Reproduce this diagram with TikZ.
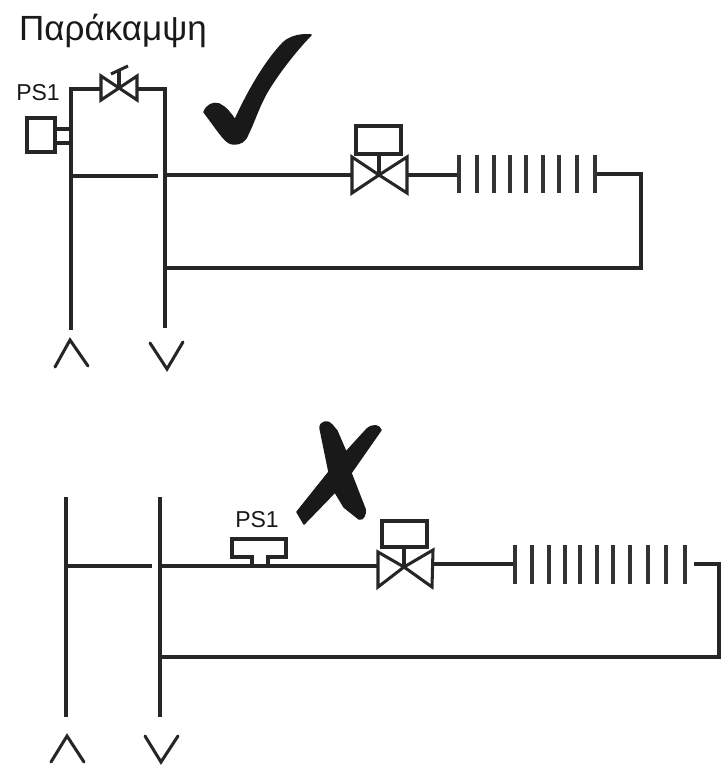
\documentclass[tikz,border=0pt]{standalone}
\usepackage{fontspec}
\setmainfont{Liberation Sans}

\tikzset{
    pipe/.style={line width=3.05pt,draw=black!85,line cap=butt,line join=miter},
    finline/.style={line width=3.05pt,draw=black!80},
    tickmark/.style={fill=black!90,draw=black!90,line width=1.5pt,line join=round},
    title/.style={inner sep=0pt,anchor=base west,font=\fontsize{35}{37}\selectfont,text=black!90},
    tag/.style={inner sep=0pt,anchor=base,font=\fontsize{23}{25}\selectfont,text=black!90}
}

\begin{document}
\begin{tikzpicture}[x=1pt,y=-1pt]
    \useasboundingbox (0,0) rectangle (726,768);

    % Labels
    \node [title] (heading) at (19,41) {Παράκαμψη};
    \node [tag] (tagtop) at (38,100) {PS1};
    \node [tag] (tagbot) at (257,527) {PS1};

    % Upper circuit: junctions
    \coordinate (ubypassL) at (71,89);
    \coordinate (ubypassR) at (165,89);
    \coordinate (ulegL) at (71,330);
    \coordinate (ulegR) at (165,328);
    \coordinate (ubleft) at (101,89);
    \coordinate (ubright) at (137,89);
    \coordinate (ubmid) at (119,88);
    \coordinate (ucrossL) at (71,176);
    \coordinate (ucrossR) at (158,176);
    \coordinate (umainA) at (165,175);
    \coordinate (uvalveL) at (352,175);
    \coordinate (uvalveM) at (379,175);
    \coordinate (uvalveR) at (407,175);
    \coordinate (ufinA) at (459,175);
    \coordinate (ufinB) at (597,174);
    \coordinate (ucorner) at (641,174);
    \coordinate (ucornerB) at (641,268);
    \coordinate (ureturn) at (165,268);

    % Upper circuit: pipes
    \draw [pipe] (ulegL) -- (ubypassL) -- (ubleft);
    \draw [pipe] (ubright) -- (ubypassR) -- (ulegR);
    \draw [pipe] (ucrossL) -- (ucrossR);
    \draw [pipe] (umainA) -- (uvalveL);
    \draw [pipe] (uvalveR) -- (ufinA);
    \draw [pipe] (ufinB) -- (ucorner) -- (ucornerB) -- (ureturn);

    % Hand valve on the bypass
    \draw [pipe] (ubmid) -- (101,76) -- (101,100) -- cycle;
    \draw [pipe] (ubmid) -- (137,76) -- (137,100) -- cycle;
    \draw [pipe] (ubmid) -- (119,71);
    \draw [pipe] (111,74) -- (128,66);

    % Upper pressure switch
    \draw [pipe] (27,118) rectangle (55,152);
    \draw [pipe] (55,129) -- (71,129);
    \draw [pipe] (55,143) -- (71,143);

    % Upper solenoid valve
    \draw [pipe] (uvalveM) -- (352,157) -- (352,193) -- cycle;
    \draw [pipe] (uvalveM) -- (407,157) -- (407,193) -- cycle;
    \draw [pipe] (356,126) rectangle (401,154);
    \draw [pipe] (379,154) -- (uvalveM);

    % Upper fins
    \foreach \fx in {459,477,494,510,526,543,559,577,595} {
        \draw [finline] (\fx,155) -- (\fx,193);
    }

    % Upper flow arrows
    \draw [pipe,line cap=round] (55,367) -- (70,340) -- (88,366);
    \draw [pipe,line cap=round] (150,343) -- (167,369) -- (183,342);

    % Lower circuit: junctions
    \coordinate (lpipeLt) at (66,497);
    \coordinate (lpipeLb) at (66,717);
    \coordinate (lpipeRt) at (160,497);
    \coordinate (lpipeRb) at (160,717);
    \coordinate (lcrossL) at (66,566);
    \coordinate (lcrossR) at (152,566);
    \coordinate (lmainA) at (160,566);
    \coordinate (lvalveL) at (378,566);
    \coordinate (lvalveM) at (404,567);
    \coordinate (lvalveR) at (433,564);
    \coordinate (lfinA) at (515,564);
    \coordinate (lfinB) at (694,564);
    \coordinate (lcorner) at (719,564);
    \coordinate (lcornerB) at (719,657);
    \coordinate (lreturn) at (160,657);

    % Lower circuit: pipes
    \draw [pipe] (lpipeLt) -- (lpipeLb);
    \draw [pipe] (lpipeRt) -- (lpipeRb);
    \draw [pipe] (lcrossL) -- (lcrossR);
    \draw [pipe] (lmainA) -- (lvalveL);
    \draw [pipe] (lvalveR) -- (lfinA);
    \draw [pipe] (lfinB) -- (lcorner) -- (lcornerB) -- (lreturn);

    % Lower pressure switch
    \draw [pipe] (252,565) -- (252,557) -- (232,557) -- (232,539) -- (286,539) -- (286,557) -- (268,557) -- (268,565);

    % Lower solenoid valve
    \draw [pipe] (lvalveM) -- (378,552) -- (378,587) -- cycle;
    \draw [pipe] (lvalveM) -- (433,550) -- (432,587) -- cycle;
    \draw [pipe] (382,521) rectangle (427,547);
    \draw [pipe] (404,547) -- (lvalveM);

    % Lower fins
    \foreach \fx in {515,532,549,565,580,597,613,630,648,666,685} {
        \draw [finline] (\fx,545) -- (\fx,584);
    }

    % Lower flow arrows
    \draw [pipe,line cap=round] (51,762) -- (67,736) -- (84,762);
    \draw [pipe,line cap=round] (145,736) -- (161,762) -- (178,736);

    % Tick and cross
    \filldraw [tickmark] (204,112) .. controls (207,105) and (213,102) .. (219,104)
        .. controls (226,107) and (231,114) .. (235,120)
        .. controls (244,100) and (262,65) .. (283,43)
        .. controls (290,36) and (302,34) .. (311,35)
        .. controls (300,46) and (280,70) .. (267,92)
        .. controls (258,108) and (254,122) .. (248,134)
        .. controls (245,142) and (240,144) .. (234,144)
        .. controls (226,144) and (222,136) .. (204,112) -- cycle;
    \filldraw [tickmark] (320,428) .. controls (320,421) and (329,420) .. (332,425)
        -- (337,431) -- (346,452) -- (367,429) .. controls (373,424) and (379,425) .. (381,430)
        -- (351,473) -- (365,509) .. controls (366,515) and (363,520) .. (359,519)
        -- (344,507) -- (335,492) -- (304,524) -- (297,512) -- (329,472) -- cycle;
\end{tikzpicture}
\end{document}
